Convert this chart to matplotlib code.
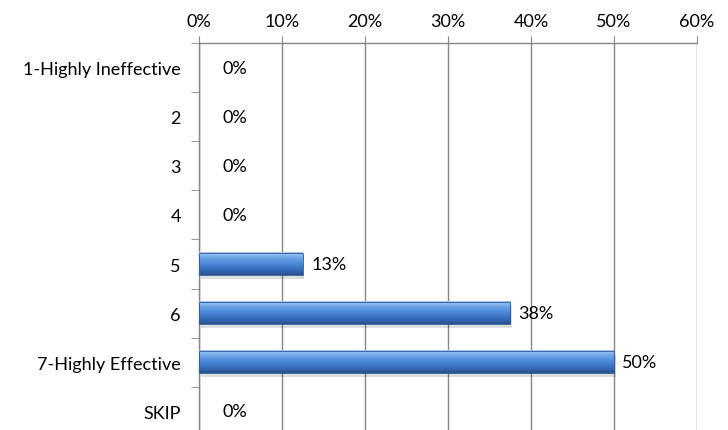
import numpy as np
import matplotlib.pyplot as plt
from matplotlib.colors import LinearSegmentedColormap

categories = ['1-Highly Ineffective', '2', '3', '4', '5', '6', '7-Highly Effective', 'SKIP']
values = [0, 0, 0, 0, 12.5, 37.5, 50.0, 0]
labels = ['0%', '0%', '0%', '0%', '13%', '38%', '50%', '0%']
xticks = [0, 10, 20, 30, 40, 50, 60]

plt.rcParams['font.family'] = ['Lato', 'DejaVu Sans']
fs = 13

fig = plt.figure(figsize=(7.28, 4.31), dpi=100)
ax = fig.add_axes([0.2734, -0.014, 0.684, 0.912])

n = len(categories)

# vertical gradient for the bars (light top, dark bottom)
grad = LinearSegmentedColormap.from_list(
    'bar', ['#a6c9f2', '#6aa3e6', '#4a88d9', '#3a70bd', '#26528f'])
g = np.linspace(0, 1, 64).reshape(-1, 1)
h = 0.45
for i, v in enumerate(values):
    if v > 0:
        # soft shadow
        ax.add_patch(plt.Rectangle((0.2, i - h / 2 + 0.07), v, h,
                                   color='#000000', alpha=0.13, lw=0, zorder=2))
        ax.imshow(g, cmap=grad, aspect='auto', extent=(0, v, i + h / 2, i - h / 2),
                  zorder=3, interpolation='bilinear')
        ax.add_patch(plt.Rectangle((0, i - h / 2), v, h, fill=False,
                                   ec='#2a5a9a', lw=0.6, zorder=4))
        off = 1.0
    else:
        off = 2.8
    ax.text(v + off, i, labels[i], va='center', ha='left', fontsize=fs, color='black')

ax.set_xlim(0, 60)
ax.set_ylim(n - 0.5, -0.5)

ax.xaxis.tick_top()
ax.set_xticks(xticks)
ax.set_xticklabels([f'{t}%' for t in xticks], fontsize=fs)
ax.tick_params(axis='x', length=5, color='#868686', pad=5)
ax.grid(axis='x', color='#868686', lw=1)
ax.set_axisbelow(True)

ax.set_yticks(range(n))
ax.set_yticklabels(categories, fontsize=fs)
ax.set_yticks(np.arange(-0.5, n, 1), minor=True)
ax.tick_params(axis='y', which='major', length=0, pad=13)
ax.tick_params(axis='y', which='minor', length=6, color='#868686')

for s in ['right', 'bottom']:
    ax.spines[s].set_visible(False)
for s in ['top', 'left']:
    ax.spines[s].set_color('#868686')
    ax.spines[s].set_linewidth(1)

fig.savefig('out.png', dpi=100)
